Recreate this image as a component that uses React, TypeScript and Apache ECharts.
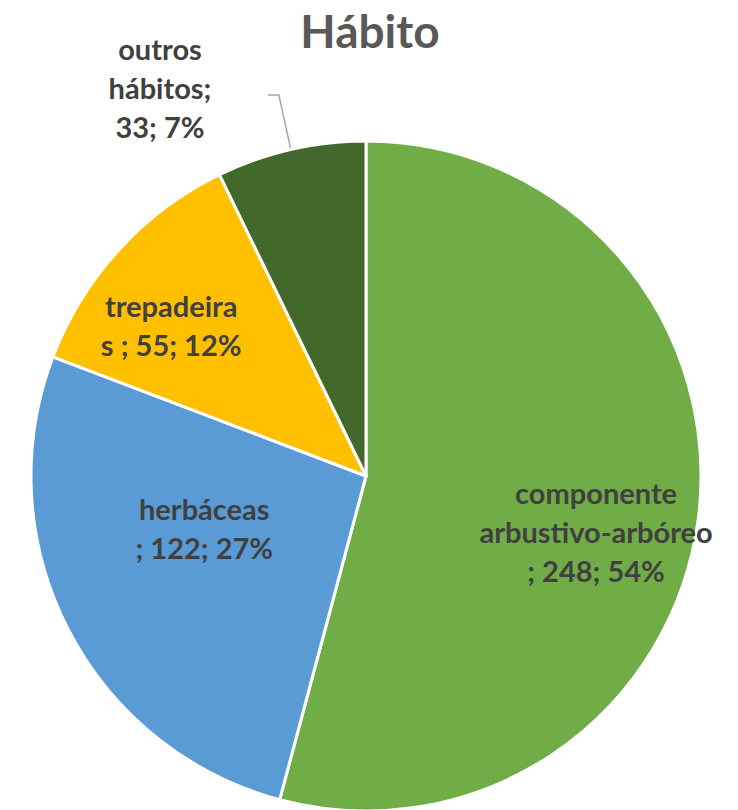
import React, { useEffect, useRef } from "react";
import * as echarts from "echarts";

const categories = ["componente arbustivo-arbóreo", "herbáceas", "trepadeiras", "outros hábitos"];
const values = [248, 122, 55, 33];
// label text as wrapped in the reference ({v} = value, {p} = percent)
const labelTemplates = [
  "componente\narbustivo-arbóreo\n; {v}; {p}%",
  "herbáceas\n; {v}; {p}%",
  "trepadeira\ns ; {v}; {p}%",
  "outros\nhábitos;\n{v}; {p}%",
];
const colors = ["#70AD47", "#5B9BD5", "#FFC000", "#43682B"];

const CX = 366;
const CY = 476;
const R = 335;

export default function App() {
  const ref = useRef<HTMLDivElement>(null);
  useEffect(() => {
    if (!ref.current) return;
    const chart = echarts.init(ref.current, null, { renderer: "svg" });
    const total = values.reduce((a, b) => a + b, 0);
    const labelShift: Record<number, [number, number]> = {
      0: [61, 33],
      1: [-10, -26],
      2: [-69, -36],
    };
    chart.setOption({
      animation: false,
      backgroundColor: "#ffffff",
      title: {
        text: "Hábito",
        left: 365,
        textAlign: "center",
        top: 2,
        textStyle: {
          fontFamily: "Lato",
          fontWeight: "bold",
          fontSize: 46,
          color: "#595959",
        },
      },
      series: [
        {
          type: "pie",
          center: [CX, CY],
          radius: [0, R],
          startAngle: 90,
          clockwise: true,
          percentPrecision: 0,
          itemStyle: { borderColor: "#ffffff", borderWidth: 3 },
          label: {
            position: "inside",
            fontFamily: "Lato",
            fontWeight: "bold",
            fontSize: 29,
            lineHeight: 39,
            color: "#404040",
            align: "center",
            formatter: (p: any) =>
              labelTemplates[p.dataIndex].replace("{v}", String(p.value)).replace("{p}", String(Math.round((p.value / total) * 100))),
          },
          labelLine: { show: false },
          labelLayout: (params: any) => {
            const i = params.dataIndex;
            if (i === 3) {
              // outside label with leader line at slice mid angle
              let start = 90;
              for (let k = 0; k < 3; k++) start -= (values[k] / total) * 360;
              const mid = start - (values[3] / total) * 360 / 2;
              const a = (mid * Math.PI) / 180;
              const ex = CX + R * Math.cos(a);
              const ey = CY - R * Math.sin(a);
              return {
                x: 160,
                y: 87,
                align: "center",
                verticalAlign: "middle",
                labelLinePoints: [
                  [ex, ey],
                  [ex - 12, 95],
                  [ex - 23, 95],
                ],
              };
            }
            const s = labelShift[i] || [0, 0];
            return { dx: s[0], dy: s[1] };
          },
          data: categories.map((name, i) => ({
            name,
            value: values[i],
            itemStyle: { color: colors[i] },
            label: i === 3 ? { position: "outside" } : undefined,
            labelLine:
              i === 3
                ? { show: true, lineStyle: { color: "#A6A6A6", width: 1.5 } }
                : undefined,
          })),
        },
      ],
    });
    return () => chart.dispose();
  }, []);
  return (
    <div
      ref={ref}
      style={{ position: "fixed", left: 0, top: 0, width: 738, height: 810 }}
    />
  );
}
